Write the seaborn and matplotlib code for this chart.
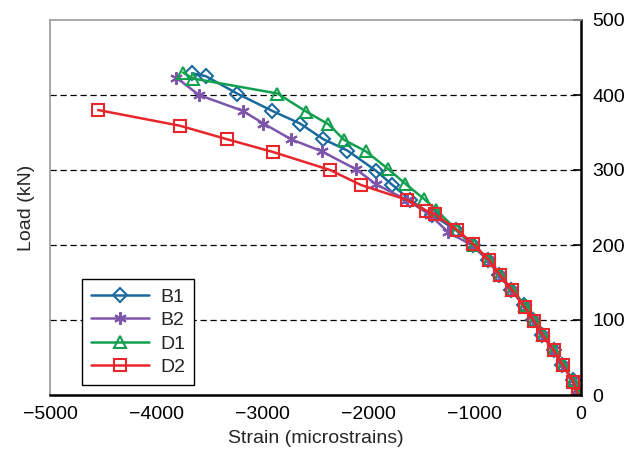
import matplotlib
matplotlib.use("Agg")
import matplotlib.pyplot as plt
import seaborn as sns
import pandas as pd

# ---- data ----
b1_strain = [-3663, -3531, -3239, -2910, -2646, -2425, -2200, -1930, -1775, -1610, -1400, -1180, -1020, -875, -770, -655, -535, -450, -365, -258, -175, -78, -25]
b1_load   = [429, 425, 402, 379, 362, 341, 326, 299, 280, 260, 240, 220, 200, 180, 160, 140, 120, 100, 80, 60, 40, 20, 0]

b2_strain = [-3809, -3597, -3187, -2990, -2731, -2443, -2119, -1930, -1640, -1420, -1250, -1030, -880, -772, -660, -540, -452, -368, -262, -178, -80, -28]
b2_load   = [423, 400, 379, 362, 341, 325, 301, 281, 260, 240, 217, 200, 180, 160, 140, 120, 100, 80, 60, 40, 20, 0]

d1_strain = [-3748, -3653, -2858, -2589, -2378, -2229, -2027, -1813, -1657, -1483, -1365, -1170, -1010, -865, -762, -648, -528, -444, -360, -255, -172, -76, -22]
d1_load   = [430, 422, 402, 378, 361, 340, 325, 301, 282, 262, 247, 220, 200, 180, 160, 140, 120, 100, 80, 60, 40, 20, 0]

d2_strain = [-4548, -3776, -3333, -2900, -2363, -2072, -1636, -1460, -1375, -1165, -1014, -866, -763, -650, -530, -443, -360, -258, -172, -73, -30]
d2_load   = [380, 359, 341, 324, 300, 280, 260, 246, 241, 220, 201, 180, 160, 140, 117, 99, 80, 60, 40, 18, 0]

series_names = ["B1", "B2", "D1", "D2"]
x_ticks = [-5000, -4000, -3000, -2000, -1000, 0]
y_ticks = [0, 100, 200, 300, 400, 500]
grid_levels = [100, 200, 300, 400]

sns.set_style("white")
plt.rcParams["font.family"] = ["Liberation Sans", "DejaVu Sans"]
plt.rcParams["font.size"] = 14

fig = plt.figure(figsize=(6.35, 4.59), dpi=100)
ax = fig.add_axes([50/635, 64/459, 531/635, 375/459])

styles = {
    "B1": dict(color="#1b6a9e", marker="D", ms=7),
    "B2": dict(color="#7d55ab", marker=(6, 2, 0), ms=9),
    "D1": dict(color="#12a04f", marker="^", ms=9),
    "D2": dict(color="#e8262b", marker="s", ms=9),
}
data = {
    "B1": (b1_strain, b1_load),
    "B2": (b2_strain, b2_load),
    "D1": (d1_strain, d1_load),
    "D2": (d2_strain, d2_load),
}

for y in grid_levels:
    ax.axhline(y, color="black", ls=(0, (5, 3)), lw=0.9, zorder=0)

for name in series_names:
    xs, ys = data[name]
    st = styles[name]
    df = pd.DataFrame({"x": xs, "y": ys})
    sns.lineplot(data=df, x="x", y="y", ax=ax, sort=False, estimator=None,
                 color=st["color"], lw=1.8, marker=st["marker"], markersize=st["ms"],
                 markerfacecolor="none", markeredgecolor=st["color"], markeredgewidth=1.5,
                 label=name)

ax.set_xlim(-5000, 0)
ax.set_ylim(0, 500)
ax.set_xticks(x_ticks)
ax.set_xticklabels(["\u22125000", "\u22124000", "\u22123000", "\u22122000", "\u22121000", "0"])
ax.set_yticks(y_ticks)
ax.yaxis.tick_right()
ax.yaxis.set_label_position("left")
ax.tick_params(axis="y", direction="in", length=6, width=1.2, labelsize=14, pad=8, colors="black")
ax.tick_params(axis="x", direction="out", length=5, width=1.2, labelsize=14, pad=3, colors="black")

ax.set_xlabel("Strain (microstrains)", fontsize=14, labelpad=5)
ax.set_ylabel("Load (kN)", fontsize=14, labelpad=11)

for s in ["left", "top"]:
    ax.spines[s].set_color("#999999")
    ax.spines[s].set_linewidth(1.2)
for s in ["right", "bottom"]:
    ax.spines[s].set_color("black")
    ax.spines[s].set_linewidth(1.8)

leg = ax.legend(loc="lower left", bbox_to_anchor=(0.06, 0.027), borderaxespad=0,
                fontsize=14, handlelength=3.0, labelspacing=0.3, handletextpad=0.6,
                fancybox=False, framealpha=1, edgecolor="black", borderpad=0.45)
leg.get_frame().set_linewidth(1.0)

fig.savefig("out.png", dpi=100)
